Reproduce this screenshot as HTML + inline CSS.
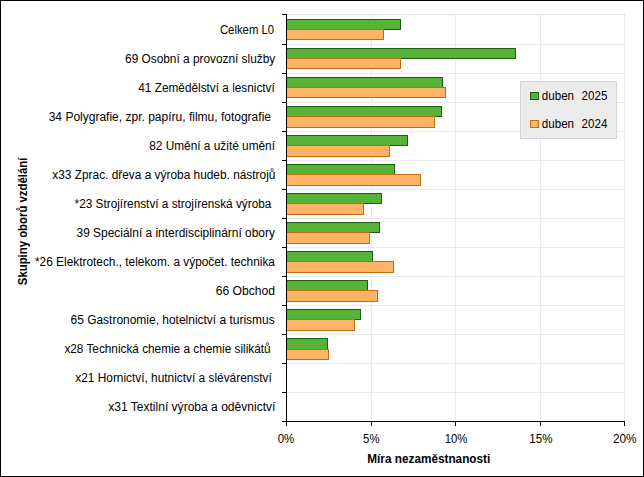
<!DOCTYPE html>
<html lang="cs"><head><meta charset="utf-8"><title>Míra nezaměstnanosti</title>
<style>html,body{margin:0;padding:0;background:#fff}body{width:644px;height:477px;overflow:hidden}svg{display:block}text{font-family:"Liberation Sans",Arial,sans-serif;fill:#000;white-space:pre}</style></head><body>
<svg width="644" height="477" viewBox="0 0 644 477">
<rect x="0" y="0" width="644" height="477" fill="#fff"/>
<g stroke="#eaeaea" stroke-width="1" shape-rendering="crispEdges">
<line x1="287" y1="14.5" x2="625" y2="14.5"/>
<line x1="287" y1="44.5" x2="625" y2="44.5"/>
<line x1="287" y1="73.5" x2="625" y2="73.5"/>
<line x1="287" y1="102.5" x2="625" y2="102.5"/>
<line x1="287" y1="131.5" x2="625" y2="131.5"/>
<line x1="287" y1="160.5" x2="625" y2="160.5"/>
<line x1="287" y1="189.5" x2="625" y2="189.5"/>
<line x1="287" y1="218.5" x2="625" y2="218.5"/>
<line x1="287" y1="247.5" x2="625" y2="247.5"/>
<line x1="287" y1="276.5" x2="625" y2="276.5"/>
<line x1="287" y1="305.5" x2="625" y2="305.5"/>
<line x1="287" y1="334.5" x2="625" y2="334.5"/>
<line x1="287" y1="363.5" x2="625" y2="363.5"/>
<line x1="287" y1="392.5" x2="625" y2="392.5"/>
<line x1="371.5" y1="14" x2="371.5" y2="421"/>
<line x1="455.5" y1="14" x2="455.5" y2="421"/>
<line x1="540.5" y1="14" x2="540.5" y2="421"/>
<line x1="624.5" y1="14" x2="624.5" y2="421"/>
<line x1="287" y1="14.5" x2="625" y2="14.5" stroke="#e0e0e0"/>
</g>
<g shape-rendering="crispEdges" stroke-width="1">
<rect x="286.5" y="19.5" width="114.0" height="10" fill="#55b336" stroke="#1f5c14"/>
<rect x="286.5" y="29.5" width="97.0" height="10" fill="#ffb366" stroke="#c46c14"/>
<rect x="286.5" y="48.5" width="229.0" height="10" fill="#55b336" stroke="#1f5c14"/>
<rect x="286.5" y="58.5" width="114.0" height="10" fill="#ffb366" stroke="#c46c14"/>
<rect x="286.5" y="77.5" width="156.0" height="10" fill="#55b336" stroke="#1f5c14"/>
<rect x="286.5" y="87.5" width="159.0" height="10" fill="#ffb366" stroke="#c46c14"/>
<rect x="286.5" y="106.5" width="155.0" height="10" fill="#55b336" stroke="#1f5c14"/>
<rect x="286.5" y="116.5" width="148.0" height="11" fill="#ffb366" stroke="#c46c14"/>
<rect x="286.5" y="135.5" width="121.0" height="10" fill="#55b336" stroke="#1f5c14"/>
<rect x="286.5" y="145.5" width="103.0" height="11" fill="#ffb366" stroke="#c46c14"/>
<rect x="286.5" y="164.5" width="108.0" height="10" fill="#55b336" stroke="#1f5c14"/>
<rect x="286.5" y="174.5" width="134.0" height="11" fill="#ffb366" stroke="#c46c14"/>
<rect x="286.5" y="193.5" width="95.0" height="10" fill="#55b336" stroke="#1f5c14"/>
<rect x="286.5" y="203.5" width="77.0" height="11" fill="#ffb366" stroke="#c46c14"/>
<rect x="286.5" y="222.5" width="93.0" height="10" fill="#55b336" stroke="#1f5c14"/>
<rect x="286.5" y="232.5" width="83.0" height="11" fill="#ffb366" stroke="#c46c14"/>
<rect x="286.5" y="251.5" width="86.0" height="10" fill="#55b336" stroke="#1f5c14"/>
<rect x="286.5" y="261.5" width="107.0" height="11" fill="#ffb366" stroke="#c46c14"/>
<rect x="286.5" y="280.5" width="81.0" height="10" fill="#55b336" stroke="#1f5c14"/>
<rect x="286.5" y="290.5" width="91.0" height="11" fill="#ffb366" stroke="#c46c14"/>
<rect x="286.5" y="309.5" width="74.0" height="10" fill="#55b336" stroke="#1f5c14"/>
<rect x="286.5" y="319.5" width="68.0" height="11" fill="#ffb366" stroke="#c46c14"/>
<rect x="286.5" y="338.5" width="41.0" height="11" fill="#55b336" stroke="#1f5c14"/>
<rect x="286.5" y="349.5" width="42.0" height="10" fill="#ffb366" stroke="#c46c14"/>
</g>
<g stroke="#000" stroke-width="1" shape-rendering="crispEdges">
<line x1="286.5" y1="14" x2="286.5" y2="422"/>
<line x1="282" y1="421.5" x2="625" y2="421.5"/>
<line x1="282" y1="14.5" x2="287" y2="14.5"/>
<line x1="282" y1="44.5" x2="287" y2="44.5"/>
<line x1="282" y1="73.5" x2="287" y2="73.5"/>
<line x1="282" y1="102.5" x2="287" y2="102.5"/>
<line x1="282" y1="131.5" x2="287" y2="131.5"/>
<line x1="282" y1="160.5" x2="287" y2="160.5"/>
<line x1="282" y1="189.5" x2="287" y2="189.5"/>
<line x1="282" y1="218.5" x2="287" y2="218.5"/>
<line x1="282" y1="247.5" x2="287" y2="247.5"/>
<line x1="282" y1="276.5" x2="287" y2="276.5"/>
<line x1="282" y1="305.5" x2="287" y2="305.5"/>
<line x1="282" y1="334.5" x2="287" y2="334.5"/>
<line x1="282" y1="363.5" x2="287" y2="363.5"/>
<line x1="282" y1="392.5" x2="287" y2="392.5"/>
<line x1="286.5" y1="421" x2="286.5" y2="426"/>
<line x1="371.5" y1="421" x2="371.5" y2="426"/>
<line x1="455.5" y1="421" x2="455.5" y2="426"/>
<line x1="540.5" y1="421" x2="540.5" y2="426"/>
<line x1="624.5" y1="421" x2="624.5" y2="426"/>
</g>
<g font-size="12.00">
<text x="219.9" y="34.2" textLength="54.3" lengthAdjust="spacingAndGlyphs">Celkem L0</text>
<text x="125.1" y="63.2" textLength="150.1" lengthAdjust="spacingAndGlyphs">69 Osobní a provozní služby</text>
<text x="138.3" y="92.1" textLength="136.5" lengthAdjust="spacingAndGlyphs">41 Zemědělství a lesnictví</text>
<text x="48.7" y="121.0" textLength="222.3" lengthAdjust="spacingAndGlyphs">34 Polygrafie, zpr. papíru, filmu, fotografie</text>
<text x="149.2" y="150.0" textLength="125.8" lengthAdjust="spacingAndGlyphs">82 Umění a užité umění</text>
<text x="52.3" y="178.9" textLength="223.1" lengthAdjust="spacingAndGlyphs">x33 Zprac. dřeva a výroba hudeb. nástrojů</text>
<text x="74.6" y="207.9" textLength="196.8" lengthAdjust="spacingAndGlyphs">*23 Strojírenství a strojírenská výroba</text>
<text x="76.5" y="236.9" textLength="198.4" lengthAdjust="spacingAndGlyphs">39 Speciální a interdisciplinární obory</text>
<text x="35.0" y="265.8" textLength="239.9" lengthAdjust="spacingAndGlyphs">*26 Elektrotech., telekom. a výpočet. technika</text>
<text x="215.7" y="294.8" textLength="59.3" lengthAdjust="spacingAndGlyphs">66 Obchod</text>
<text x="70.5" y="323.7" textLength="204.2" lengthAdjust="spacingAndGlyphs">65 Gastronomie, hotelnictví a turismus</text>
<text x="64.4" y="352.6" textLength="206.2" lengthAdjust="spacingAndGlyphs">x28 Technická chemie a chemie silikátů</text>
<text x="75.3" y="381.6" textLength="196.5" lengthAdjust="spacingAndGlyphs">x21 Hornictví, hutnictví a slévárenství</text>
<text x="108.2" y="410.5" textLength="167.2" lengthAdjust="spacingAndGlyphs">x31 Textilní výroba a oděvnictví</text>
</g>
<g font-size="12.00" text-anchor="middle">
<text x="286.0" y="443" textLength="16.6" lengthAdjust="spacingAndGlyphs">0%</text>
<text x="371.3" y="443" textLength="16.4" lengthAdjust="spacingAndGlyphs">5%</text>
<text x="456.0" y="443" textLength="22.6" lengthAdjust="spacingAndGlyphs">10%</text>
<text x="540.9" y="443" textLength="23.2" lengthAdjust="spacingAndGlyphs">15%</text>
<text x="624.7" y="443" textLength="23.6" lengthAdjust="spacingAndGlyphs">20%</text>
</g>
<text x="367.3" y="463" font-size="12" font-weight="bold" textLength="123" lengthAdjust="spacingAndGlyphs">Míra nezaměstnanosti</text>
<text transform="translate(27.2,285.2) rotate(-90)" font-size="12" font-weight="bold" textLength="127.5" lengthAdjust="spacingAndGlyphs">Skupiny oborů vzdělání</text>
<g shape-rendering="crispEdges">
<rect x="520.5" y="81.5" width="96" height="57" fill="#ececec" stroke="#d4d4d4"/>
<rect x="530.5" y="92.5" width="8" height="7" fill="#55b336" stroke="#1f5c14"/>
<rect x="530.5" y="120.5" width="8" height="7" fill="#ffb366" stroke="#c46c14"/>
</g>
<text x="541.8" y="100" font-size="12" xml:space="preserve" word-spacing="0.6" textLength="65.6" lengthAdjust="spacingAndGlyphs">duben  2025</text>
<text x="541.8" y="128" font-size="12" xml:space="preserve" word-spacing="0.6" textLength="65.6" lengthAdjust="spacingAndGlyphs">duben  2024</text>
<rect x="0.5" y="0.5" width="643" height="476" fill="none" stroke="#000" stroke-width="1" shape-rendering="crispEdges"/>
</svg></body></html>
